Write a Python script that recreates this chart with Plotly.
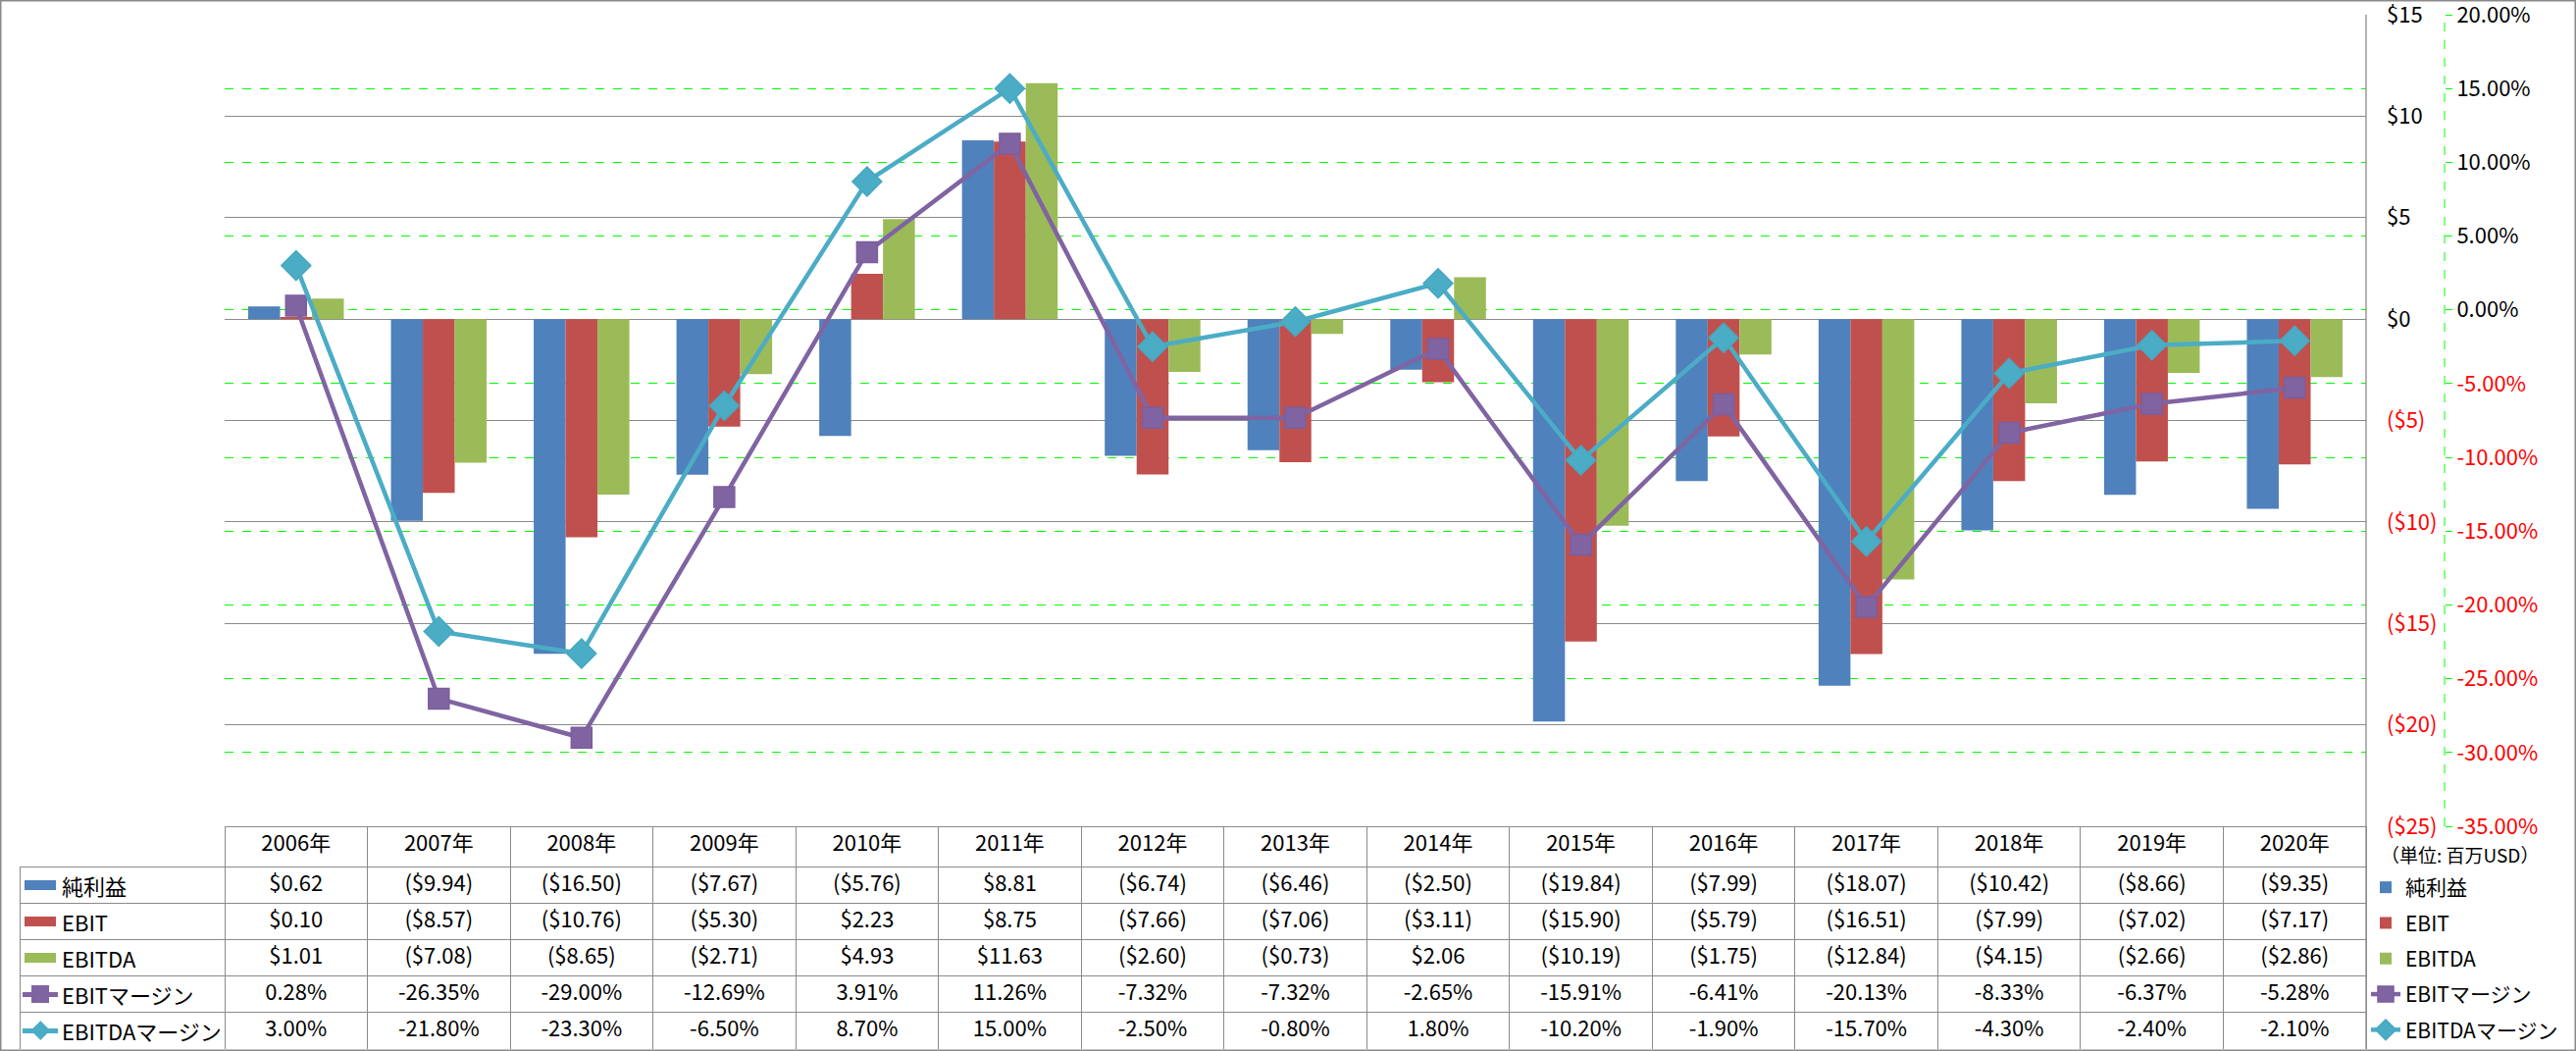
import plotly.graph_objects as go

# ---------------- data ----------------
years = ['2006年', '2007年', '2008年', '2009年', '2010年', '2011年', '2012年', '2013年',
         '2014年', '2015年', '2016年', '2017年', '2018年', '2019年', '2020年']
net_income = [0.62, -9.94, -16.50, -7.67, -5.76, 8.81, -6.74, -6.46, -2.50, -19.84,
              -7.99, -18.07, -10.42, -8.66, -9.35]
ebit = [0.10, -8.57, -10.76, -5.30, 2.23, 8.75, -7.66, -7.06, -3.11, -15.90,
        -5.79, -16.51, -7.99, -7.02, -7.17]
ebitda = [1.01, -7.08, -8.65, -2.71, 4.93, 11.63, -2.60, -0.73, 2.06, -10.19,
          -1.75, -12.84, -4.15, -2.66, -2.86]
ebit_margin = [0.28, -26.35, -29.00, -12.69, 3.91, 11.26, -7.32, -7.32, -2.65, -15.91,
               -6.41, -20.13, -8.33, -6.37, -5.28]
ebitda_margin = [3.00, -21.80, -23.30, -6.50, 8.70, 15.00, -2.50, -0.80, 1.80, -10.20,
                 -1.90, -15.70, -4.30, -2.40, -2.10]

series_names = ['純利益', 'EBIT', 'EBITDA', 'EBITマージン', 'EBITDAマージン']
usd_ticks = [15, 10, 5, 0, -5, -10, -15, -20, -25]
pct_ticks = [20, 15, 10, 5, 0, -5, -10, -15, -20, -25, -30, -35]
unit_label = '（単位: 百万USD）'

# ---------------- styling ----------------
W, H = 2626, 1071
FONT = 'Noto Sans CJK JP, Liberation Sans, sans-serif'
C_NET, C_EBIT, C_EBITDA = '#4F81BD', '#C0504D', '#9BBB59'
C_EM, C_EDM = '#8064A2', '#4BACC6'
GRAY = '#8A8A8A'
RED = '#FF0000'
series_colors = [C_NET, C_EBIT, C_EBITDA, C_EM, C_EDM]
series_kind = ['bar', 'bar', 'bar', 'square', 'diamond']


def px(x):
    return x / W


def py(y):
    return 1 - y / H


def fmt_usd(v):
    return f'${v:.2f}' if v >= 0 else f'(${-v:.2f})'


def fmt_pct(v):
    return f'{v:.2f}%'


def red_if_neg(v, s):
    return f"<span style='color:{RED}'>{s}</span>" if v < 0 else s


usd_text = [red_if_neg(v, f'${v}' if v >= 0 else f'(${-v})') for v in usd_ticks]
pct_text = [red_if_neg(v, f'{v:.2f}%') for v in pct_ticks]

fig = go.Figure()

bar_specs = [(net_income, series_names[0], C_NET),
             (ebit, series_names[1], C_EBIT),
             (ebitda, series_names[2], C_EBITDA)]
for vals, name, col in bar_specs:
    fig.add_trace(go.Bar(x=years, y=vals, name=name, legendgroup=name,
                         marker=dict(color=col, line=dict(width=0))))

fig.add_trace(go.Scatter(x=years, y=ebit_margin, name=series_names[3], legendgroup=series_names[3],
                         yaxis='y2', mode='lines+markers',
                         line=dict(color=C_EM, width=4.5),
                         marker=dict(symbol='square', size=21, color=C_EM,
                                     line=dict(color='#7B5E9E', width=1.5))))
fig.add_trace(go.Scatter(x=years, y=ebitda_margin, name=series_names[4], legendgroup=series_names[4],
                         yaxis='y2', mode='lines+markers',
                         line=dict(color=C_EDM, width=4.5),
                         marker=dict(symbol='diamond', size=23, color=C_EDM,
                                     line=dict(color='#46A8C1', width=1.5))))

# ---------------- data table ----------------
TABLE_TOP, HEADER_H, ROW_H = 842, 41, 37.2
TFONT = dict(family=FONT, size=22, color='black')
cell_cols = [[fmt_usd(net_income[i]), fmt_usd(ebit[i]), fmt_usd(ebitda[i]),
              fmt_pct(ebit_margin[i]), fmt_pct(ebitda_margin[i])] for i in range(len(years))]
fig.add_trace(go.Table(
    domain=dict(x=[px(229), px(2412)], y=[py(1069), py(TABLE_TOP)]),
    columnwidth=[1] * len(years),
    header=dict(values=years, height=HEADER_H, align='center',
                fill=dict(color='white'), line=dict(color=GRAY, width=1), font=TFONT),
    cells=dict(values=cell_cols, height=ROW_H, align='center',
               fill=dict(color='white'), line=dict(color=GRAY, width=1), font=TFONT)
))

# row-label column (borders); the legend keys and names are drawn on top
fig.add_trace(go.Table(
    domain=dict(x=[px(20), px(229)], y=[py(1069), py(TABLE_TOP + HEADER_H)]),
    header=dict(values=[''], height=ROW_H,
                fill=dict(color='white'), line=dict(color=GRAY, width=1)),
    cells=dict(values=[['', '', '', '']], height=ROW_H,
               fill=dict(color='white'), line=dict(color=GRAY, width=1))
))

annotations = [dict(text=unit_label, xref='paper', yref='paper', x=px(2507), y=py(870),
                    xanchor='center', yanchor='middle',
                    showarrow=False, font=dict(family=FONT, size=19, color='black'))]


def key_box(xc, yc, w, h, color, angle=0):
    return dict(text=' ', xref='paper', yref='paper', x=px(xc), y=py(yc),
                xanchor='center', yanchor='middle', width=w, height=h,
                bgcolor=color, borderpad=0, borderwidth=0, textangle=angle,
                showarrow=False, font=dict(size=4))


KEY_X = 41
for k, name in enumerate(series_names):
    yc = TABLE_TOP + HEADER_H + ROW_H * (k + 0.5)
    col = series_colors[k]
    if series_kind[k] == 'bar':
        annotations.append(key_box(KEY_X, yc, 32, 10, col))
    else:
        annotations.append(key_box(KEY_X, yc, 36, 5, col))
        if series_kind[k] == 'square':
            annotations.append(key_box(KEY_X, yc, 18, 18, col))
        else:
            annotations.append(key_box(KEY_X, yc, 14, 14, col, angle=45))
    annotations.append(dict(text=name, xref='paper', yref='paper',
                            x=px(61), y=py(yc), xanchor='left', yanchor='middle',
                            showarrow=False, font=dict(family=FONT, size=22, color='black')))

fig.update_layout(
    template='none',
    width=W, height=H, autosize=False,
    margin=dict(l=0, r=0, t=0, b=0, pad=0, autoexpand=False),
    paper_bgcolor='white', plot_bgcolor='white',
    barmode='group', bargap=0.33, bargroupgap=0,
    font=dict(family=FONT, size=21, color='black'),
    showlegend=True,
    legend=dict(x=px(2412), y=py(884), xanchor='left', yanchor='top',
                font=dict(family=FONT, size=21, color='black'),
                tracegroupgap=6, bgcolor='rgba(0,0,0,0)', traceorder='grouped',
                borderwidth=0),
    xaxis=dict(domain=[px(229), px(2412)], type='category', range=[-0.5, 14.5],
               showticklabels=False, showgrid=False, showline=False, ticks='',
               zeroline=False, automargin=False),
    yaxis=dict(domain=[py(842), py(15)], range=[-25, 15], side='right', anchor='free',
               position=px(2432), tickvals=usd_ticks, ticktext=usd_text,
               showgrid=True, gridcolor=GRAY, gridwidth=1.3, zeroline=False,
               showline=False, ticks='', automargin=False, ticklabeloverflow='allow',
               tickfont=dict(family=FONT, size=22, color='black')),
    yaxis2=dict(domain=[py(842), py(15)], range=[-35, 20], side='right', anchor='free',
                overlaying='y', position=px(2492), tickvals=pct_ticks, ticktext=pct_text,
                showgrid=True, gridcolor='#00FF00', griddash='dash', gridwidth=1,
                zeroline=False, showline=False, ticks='outside', ticklen=7,
                tickcolor='#00FF00', tickwidth=1, automargin=False,
                ticklabeloverflow='allow',
                tickfont=dict(family=FONT, size=22, color='black')),
    shapes=[
        dict(type='line', xref='paper', yref='paper', x0=px(2492), x1=px(2492),
             y0=py(842), y1=py(15), line=dict(color='#00FF00', width=1, dash='dash')),
        dict(type='line', xref='x domain', yref='paper', x0=1, x1=1,
             y0=py(1069), y1=py(15), line=dict(color=GRAY, width=1.3)),
        dict(type='rect', xref='paper', yref='paper', x0=0, x1=1, y0=0, y1=1,
             line=dict(color=GRAY, width=3)),
    ],
    annotations=annotations,
)

fig.write_html('out.html')
